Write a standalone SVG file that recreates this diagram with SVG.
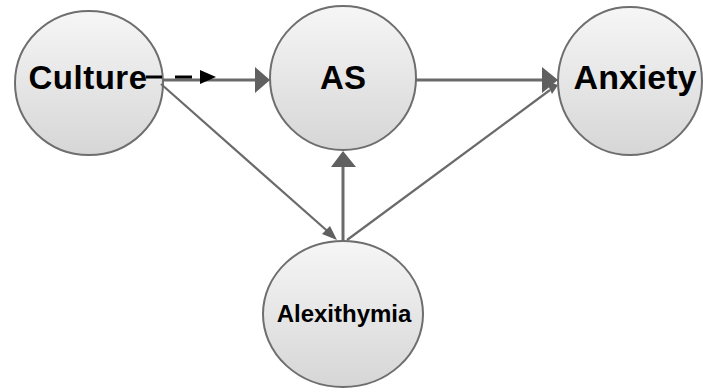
<svg xmlns="http://www.w3.org/2000/svg" width="703" height="392" viewBox="0 0 703 392">
<style>
.node{fill:url(#g);stroke:#6e6e6e;stroke-width:2}
.lbl{font-family:"Liberation Sans",Arial,sans-serif;font-weight:bold;fill:#000;text-anchor:middle}
.edge{stroke:#6a6a6a;stroke-width:3;fill:none}
.thin{stroke-width:2.2}
.head{fill:#606060}
</style>
<defs>
<linearGradient id="g" x1="0" y1="0" x2="0" y2="1">
<stop offset="0" stop-color="#f6f6f6"/>
<stop offset="1" stop-color="#d6d6d6"/>
</linearGradient>
</defs>
<rect width="703" height="392" fill="#fff"/>
<g id="node-culture">
<ellipse class="node" cx="89" cy="83" rx="74" ry="72"/>
<text class="lbl" x="88" y="89" font-size="33" letter-spacing="0.5">Culture</text>
</g>
<g id="node-as">
<ellipse class="node" cx="343" cy="78" rx="73" ry="72"/>
<text class="lbl" x="343" y="89" font-size="33">AS</text>
</g>
<g id="node-anxiety">
<ellipse class="node" cx="630" cy="81" rx="72" ry="74"/>
<text class="lbl" x="635" y="89" font-size="34">Anxiety</text>
</g>
<g id="node-alexithymia">
<ellipse class="node" cx="343" cy="314" rx="80" ry="73"/>
<text class="lbl" x="344" y="322" font-size="24">Alexithymia</text>
</g>
<g id="connectors">
<line class="edge" x1="163" y1="80" x2="257" y2="80"/>
<polygon class="head" points="255,67 270,80 255,93"/>
<line class="edge" x1="416" y1="80" x2="544" y2="80"/>
<polygon class="head" points="542,67 558,80 542,93"/>
<line class="edge thin" x1="161" y1="84" x2="333" y2="236"/>
<polygon class="head" points="322,234 337,240 330,226"/>
<line class="edge thin" x1="347" y1="240" x2="550" y2="90"/>
<polygon class="head" points="546,81 558,85 552,94"/>
<line class="edge" x1="343" y1="241" x2="343" y2="164" stroke-width="4"/>
<polygon class="head" points="331,167 343,151 356,167"/>
<line x1="146" y1="77" x2="162" y2="77" stroke="#000" stroke-width="3"/>
<line x1="175" y1="77" x2="192" y2="77" stroke="#000" stroke-width="3"/>
<polygon points="200,70 216,77 200,84" fill="#000"/>
</g>
</svg>
